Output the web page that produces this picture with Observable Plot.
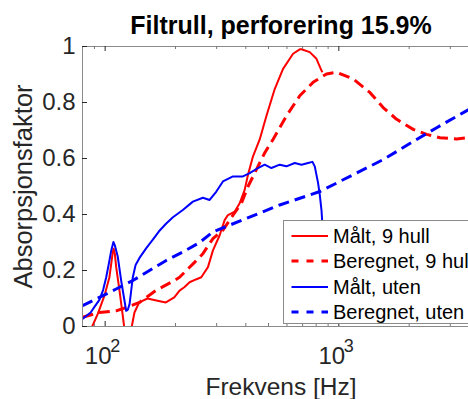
<!DOCTYPE html>
<html>
<head>
<meta charset="utf-8">
<script src="https://cdn.jsdelivr.net/npm/d3@7"></script>
<script src="https://cdn.jsdelivr.net/npm/@observablehq/plot@0.6"></script>
<style>
  html, body { margin: 0; padding: 0; background: white; }
  #wrap { position: relative; width: 468px; height: 399px; overflow: hidden; font-family: "Liberation Sans", Arial, sans-serif; }
  #wrap svg { max-width: none !important; display: block; }
  #legend { position: absolute; left: 283px; top: 220px; width: 192px; height: 104px; background: white; border: 1px solid #8a8a8a; box-sizing: border-box; }
  .row { position: absolute; left: 0; height: 24px; line-height: 24px; white-space: nowrap; font-size: 20px; color: #000; }
  .row svg { position: absolute; left: 7px; top: 0; }
  .row span { position: absolute; left: 49px; top: 0; }
</style>
</head>
<body>
<div id="wrap"></div>
<script>
// ---- data (frequency in Hz, absorption factor) ----
const redMeasured = [
  [86,-0.05],[88,0.0],[93,0.045],[99.3,0.11],[104.3,0.176],[107.8,0.265],[108.7,0.278],[110,0.26],
  [111.5,0.212],[115.2,0.128],[119,0.038],[121,-0.01],[125,-0.08],[129.3,-0.01],[133.5,0.05],
  [139.9,0.086],[151.8,0.10],[167.6,0.092],[181.9,0.086],[197.6,0.104],[208.2,0.128],[218.1,0.14],
  [229.8,0.158],[244.5,0.168],[257.9,0.176],[275.4,0.212],[289.3,0.272],[309.1,0.326],[324.6,0.38],
  [335.3,0.398],[358.4,0.41],[376.4,0.44],[395.5,0.488],[408.6,0.542],[429.3,0.608],[458.6,0.668],
  [489.9,0.752],[531.7,0.848],[577.2,0.92],[637.1,0.974],[680.6,0.99],[692,0.99],[751.1,0.98],
  [802.4,0.956],[843,0.914],[851,0.908]
];
const redCalculated = [
  [80,0.033],[94.5,0.05],[111.5,0.056],[123,0.068],[140.3,0.086],[164.3,0.128],[197.6,0.164],
  [208.2,0.176],[240.7,0.228],[262,0.26],[289.3,0.314],[319.2,0.344],[352.4,0.398],[382.8,0.44],
  [408.6,0.5],[443.8,0.56],[481.7,0.62],[522.9,0.668],[596.8,0.752],[680.6,0.824],[775.9,0.872],
  [885.8,0.902],[977.5,0.908],[1152,0.884],[1358,0.836],[1548,0.782],[1768,0.74],[2082,0.704],
  [2376,0.686],[2710,0.674],[3195,0.67],[3573,0.674],[4000,0.685]
];
const blueMeasured = [
  [80,0.027],[86.7,0.05],[90,0.07],[94.5,0.095],[98,0.13],[101,0.175],[104,0.23],[106.1,0.27],
  [108.5,0.302],[110,0.29],[113.2,0.25],[117.1,0.164],[121,0.092],[123,0.056],[125,0.06],
  [127.2,0.08],[131.3,0.175],[135,0.22],[140.3,0.245],[150,0.28],[160,0.31],[170,0.34],
  [182.6,0.368],[195,0.39],[215,0.416],[237.4,0.446],[262,0.46],[280,0.452],[299.1,0.482],
  [319.2,0.518],[352.4,0.536],[388.9,0.536],[415.5,0.548],[450.9,0.566],[481.7,0.578],
  [514.6,0.566],[558.6,0.578],[596.8,0.572],[647.9,0.584],[692.2,0.578],[738.6,0.584],
  [771.4,0.588],[789,0.572],[815.3,0.512],[829,0.47],[843,0.416],[851.4,0.36],[858,0.3],[870,0.2]
];
const blueCalculated = [
  [80,0.074],[94.5,0.104],[111.5,0.134],[131.3,0.164],[154.8,0.2],[182.6,0.236],[215.1,0.266],
  [253.7,0.3],[289.3,0.338],[402.2,0.386],[558.6,0.434],[829,0.482],[977.5,0.512],[1043,0.524],
  [1548,0.596],[2153,0.668],[2623,0.71],[3410,0.764],[4000,0.795]
];
const legendLabels = ["Målt, 9 hull", "Beregnet, 9 hull", "Målt, uten", "Beregnet, uten"];
const seriesColors = ["#ff0000", "#ff0000", "#0000ff", "#0000ff"];
const seriesDashed = [false, true, false, true];
const yTicks = [0, 0.2, 0.4, 0.6, 0.8, 1];
const xMajorTicks = [100, 1000];
const xMinorTicks = [90, 200, 300, 400, 500, 600, 700, 800, 900, 2000, 3000];
const titleText = "Filtrull, perforering 15.9%";
const xLabel = "Frekvens [Hz]";
const yLabel = "Absorpsjonsfaktor";

const toRows = a => a.map(([f, v]) => ({f, v}));
const series = [redMeasured, redCalculated, blueMeasured, blueCalculated].map(toRows);

const W = 500, H = 399, ML = 82, MR = W - 479, MT = 46, MB = 73;
const tickMajY = 5 / (H - MT - MB), tickMinY = 3 / (H - MT - MB);
const decadePx = (W - ML - MR) / Math.log10(4000 / 80);
const tickX2 = 80 * Math.pow(10, 5 / decadePx);

const lineMarks = series.map((d, i) => Plot.line(d, {
  x: "f", y: "v", stroke: seriesColors[i],
  strokeWidth: seriesDashed[i] ? 3 : 2,
  strokeDasharray: seriesDashed[i] ? "11,6" : null,
  strokeLinejoin: "round", strokeLinecap: "butt", clip: true
}));

const chart = Plot.plot({
  width: W, height: H,
  marginLeft: ML, marginRight: MR, marginTop: MT, marginBottom: MB,
  style: {fontFamily: "Liberation Sans, Arial, sans-serif", background: "white", maxWidth: "none"},
  x: {type: "log", domain: [80, 4000], axis: null},
  y: {domain: [0, 1], axis: null},
  marks: [
    ...lineMarks,
    Plot.frame({stroke: "#8a8a8a", strokeWidth: 1}),
    Plot.ruleX(xMajorTicks, {x: d => d, y1: 0, y2: tickMajY, stroke: "#262626"}),
    Plot.ruleX(xMajorTicks, {x: d => d, y1: 1, y2: 1 - tickMajY, stroke: "#262626"}),
    Plot.ruleX(xMinorTicks, {x: d => d, y1: 0, y2: tickMinY, stroke: "#777"}),
    Plot.ruleX(xMinorTicks, {x: d => d, y1: 1, y2: 1 - tickMinY, stroke: "#777"}),
    Plot.ruleY(yTicks, {y: d => d, x1: 80, x2: tickX2, stroke: "#262626"}),
    Plot.text(yTicks, {y: d => d, frameAnchor: "left", text: d => String(d), textAnchor: "end",
      dx: -7, fontSize: 24, fill: "#262626"}),
    Plot.text(xMajorTicks, {x: d => d, frameAnchor: "bottom", text: d => "10", textAnchor: "middle",
      lineAnchor: "bottom", dx: -7, dy: 37, fontSize: 24, fill: "#262626"}),
    Plot.text(xMajorTicks, {x: d => d, frameAnchor: "bottom", text: d => String(Math.round(Math.log10(d))),
      textAnchor: "start", lineAnchor: "bottom", dx: 5, dy: 25, fontSize: 18, fill: "#262626"}),
    Plot.text([titleText], {text: d => d, frameAnchor: "top", textAnchor: "middle", lineAnchor: "bottom", dy: -13,
      fontSize: 25, fontWeight: "bold", fill: "#000"}),
    Plot.text([xLabel], {text: d => d, frameAnchor: "bottom", textAnchor: "middle", lineAnchor: "bottom", dy: 68,
      fontSize: 24.5, fill: "#262626"}),
    Plot.text([yLabel], {text: d => d, frameAnchor: "left", rotate: -90, textAnchor: "middle", lineAnchor: "bottom", dx: -51,
      fontSize: 25.5, fill: "#262626"})
  ]
});

const wrap = document.getElementById("wrap");
wrap.appendChild(chart);

// legend
const legend = d3.select(wrap).append("div").attr("id", "legend");
legendLabels.forEach((label, i) => {
  const row = legend.append("div").attr("class", "row").style("top", (2.5 + 25.6 * i) + "px").style("width", "300px");
  const s = row.append("svg").attr("width", 38).attr("height", 24);
  s.append("line").attr("x1", 0.5).attr("x2", 37).attr("y1", 12).attr("y2", 12)
    .attr("stroke", seriesColors[i]).attr("stroke-width", seriesDashed[i] ? 3 : 2)
    .attr("stroke-dasharray", seriesDashed[i] ? "7,8" : null);
  row.append("span").text(label);
});
</script>
</body>
</html>
